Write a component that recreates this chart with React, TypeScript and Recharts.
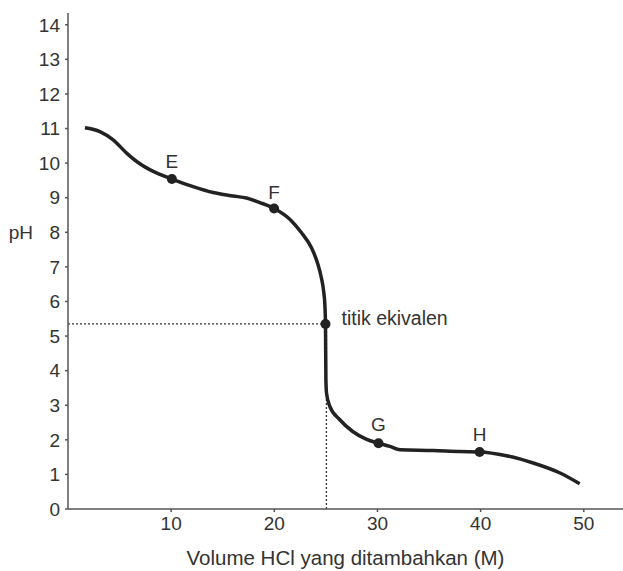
import {
  LineChart,
  Line,
  XAxis,
  YAxis,
  ReferenceLine,
  ReferenceDot,
  Label,
} from "recharts";

// titration curve (volume, pH)
const curveVolume = [
  1.64, 3.09, 4.38, 5.68, 6.97, 8.26, 10.07, 12.13, 14.07, 16.0, 17.3, 18.6,
  19.98, 21.5, 22.6, 23.6, 24.2, 24.55, 24.78, 24.9, 24.96, 25.0, 25.06,
  25.38, 26.35, 27.6, 28.9, 30.1, 31.2, 32.2, 35.4, 38.0, 39.9, 42.5, 45.1,
  47.7, 49.6,
];
const curvePH = [
  11.02, 10.91, 10.67, 10.29, 9.98, 9.76, 9.54, 9.32, 9.15, 9.05, 8.99, 8.86,
  8.69, 8.38, 8.0, 7.55, 7.1, 6.7, 6.3, 5.9, 5.35, 3.74, 3.35, 2.97, 2.58,
  2.24, 2.02, 1.9, 1.81, 1.71, 1.69, 1.66, 1.65, 1.54, 1.33, 1.04, 0.73,
];

// labelled points
const pointNames = ["E", "F", "G", "H"];
const pointVolume = [10.07, 19.98, 30.1, 39.9];
const pointPH = [9.54, 8.69, 1.9, 1.65];
const pointOffsets = [6, 4, 7, 6];

const eqVolume = 24.96;
const eqPH = 5.35;

const xTicks = [10, 20, 30, 40, 50];
const yTicks = [0, 1, 2, 3, 4, 5, 6, 7, 8, 9, 10, 11, 12, 13, 14];

const data = curveVolume.map((v, i) => ({ x: v, pH: curvePH[i] }));

const FONT = "'Liberation Sans', Arial, sans-serif";
const TEXT = "#333";
const AXIS = "#555";
const CURVE = "#222";

export default function App() {
  return (
    <div style={{ position: "absolute", left: 0, top: 0, fontFamily: FONT }}>
      <LineChart
        width={623}
        height={571}
        data={data}
        margin={{ top: 13, right: 0, bottom: 32, left: 8 }}
      >
        <XAxis
          dataKey="x"
          type="number"
          domain={[0, 53.8]}
          allowDataOverflow
          ticks={xTicks}
          tickSize={3}
          tickMargin={5}
          stroke={AXIS}
          strokeWidth={1.5}
          tick={{ fill: TEXT, fontSize: 19, fontFamily: FONT }}
        >
          <Label
            value="Volume HCl yang ditambahkan (M)"
            position="bottom"
            offset={11}
            fill={TEXT}
            fontSize={20.5}
            fontFamily={FONT}
          />
        </XAxis>
        <YAxis
          type="number"
          width={60}
          domain={[0, 14.34]}
          allowDataOverflow
          ticks={yTicks}
          interval={0}
          tickSize={3}
          tickMargin={5}
          stroke={AXIS}
          strokeWidth={1.5}
          tick={{ fill: TEXT, fontSize: 19, fontFamily: FONT }}
        />

        {/* dotted guides to the equivalence point */}
        <ReferenceLine
          segment={[
            { x: 0, y: eqPH },
            { x: eqVolume, y: eqPH },
          ]}
          stroke={TEXT}
          strokeWidth={1.3}
          strokeDasharray="2 2"
        />
        <ReferenceLine
          segment={[
            { x: 25.05, y: 0 },
            { x: 25.05, y: eqPH },
          ]}
          stroke={TEXT}
          strokeWidth={1.3}
          strokeDasharray="2 2"
        />

        <Line
          dataKey="pH"
          type="monotone"
          stroke={CURVE}
          strokeWidth={3.5}
          dot={false}
          activeDot={false}
          isAnimationActive={false}
        />

        {pointNames.map((name, i) => (
          <ReferenceDot
            key={name}
            x={pointVolume[i]}
            y={pointPH[i]}
            r={5}
            fill={CURVE}
            stroke="none"
            label={{
              value: name,
              position: "top",
              offset: pointOffsets[i],
              fill: TEXT,
              fontSize: 19,
              fontFamily: FONT,
            }}
          />
        ))}
        <ReferenceDot
          x={eqVolume}
          y={eqPH}
          r={5}
          fill={CURVE}
          stroke="none"
          label={{
            value: "titik ekivalen",
            position: "right",
            offset: 11,
            dy: -6,
            fill: TEXT,
            fontSize: 19.5,
            fontFamily: FONT,
          }}
        />

        {/* y axis title sits level with the 8 tick */}
        <ReferenceDot
          x={0}
          y={8}
          r={0}
          fill="none"
          stroke="none"
          ifOverflow="visible"
          label={{
            value: "pH",
            position: "left",
            offset: 35,
            fill: TEXT,
            fontSize: 19,
            fontWeight: 500,
            fontFamily: FONT,
          }}
        />
      </LineChart>
    </div>
  );
}
